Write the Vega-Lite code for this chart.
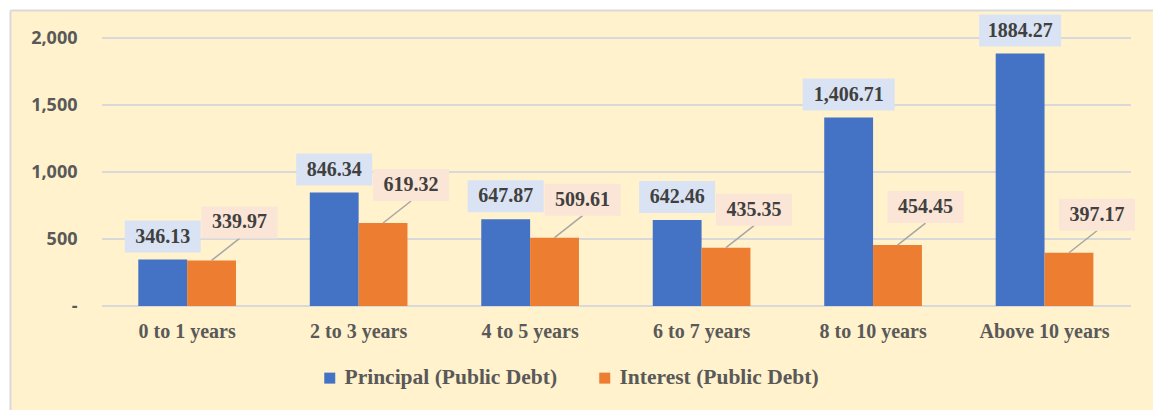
{
  "$schema": "https://vega.github.io/schema/vega-lite/v6.json",
  "width": 1143,
  "height": 400,
  "autosize": {"type": "none"},
  "padding": {"left": 10, "top": 10, "right": 0, "bottom": 0},
  "background": "#FFFFFF",
  "config": {"view": {"fill": "#FFF2CC", "stroke": null}},
  "data": {
    "values": [
      {"period": "0 to 1 years", "series": "Principal (Public Debt)", "value": 346.13, "label": "346.13"},
      {"period": "0 to 1 years", "series": "Interest (Public Debt)", "value": 339.97, "label": "339.97"},
      {"period": "2 to 3 years", "series": "Principal (Public Debt)", "value": 846.34, "label": "846.34"},
      {"period": "2 to 3 years", "series": "Interest (Public Debt)", "value": 619.32, "label": "619.32"},
      {"period": "4 to 5 years", "series": "Principal (Public Debt)", "value": 647.87, "label": "647.87"},
      {"period": "4 to 5 years", "series": "Interest (Public Debt)", "value": 509.61, "label": "509.61"},
      {"period": "6 to 7 years", "series": "Principal (Public Debt)", "value": 642.46, "label": "642.46"},
      {"period": "6 to 7 years", "series": "Interest (Public Debt)", "value": 435.35, "label": "435.35"},
      {"period": "8 to 10 years", "series": "Principal (Public Debt)", "value": 1406.71, "label": "1,406.71"},
      {"period": "8 to 10 years", "series": "Interest (Public Debt)", "value": 454.45, "label": "454.45"},
      {"period": "Above 10 years", "series": "Principal (Public Debt)", "value": 1884.27, "label": "1884.27"},
      {"period": "Above 10 years", "series": "Interest (Public Debt)", "value": 397.17, "label": "397.17"}
    ]
  },
  "resolve": {"axis": {"x": "independent", "y": "independent"}},
  "layer": [
    {
      "data": {"values": [{"g": 0}, {"g": 500}, {"g": 1000}, {"g": 1500}, {"g": 2000}]},
      "mark": {"type": "rule", "color": "#D9D9D9", "strokeWidth": 2},
      "encoding": {
        "y": {
          "field": "g", "type": "quantitative",
          "scale": {"domain": [-776.12, 2208.96], "nice": false, "zero": false},
          "axis": {"orient": "left", "domain": true, "domainColor": "#D9D9D9", "domainWidth": 2, "labels": false, "ticks": false, "grid": false, "title": null}
        },
        "x": {
          "datum": "0 to 1 years", "type": "nominal", "bandPosition": -0.3716,
          "scale": {"domain": ["0 to 1 years", "2 to 3 years", "4 to 5 years", "6 to 7 years", "8 to 10 years", "Above 10 years"], "paddingInner": 0.4303, "paddingOuter": 0.5479, "align": 0.6828},
          "axis": {"orient": "top", "domain": true, "domainColor": "#D9D9D9", "domainWidth": 2, "labels": false, "ticks": false, "grid": false, "title": null}
        },
        "x2": {"datum": "Above 10 years", "bandPosition": 1.385}
      }
    },
    {
      "mark": {"type": "bar"},
      "encoding": {
        "x": {
          "field": "period", "type": "nominal",
          "scale": {"domain": ["0 to 1 years", "2 to 3 years", "4 to 5 years", "6 to 7 years", "8 to 10 years", "Above 10 years"], "paddingInner": 0.4303, "paddingOuter": 0.5479, "align": 0.6828},
          "axis": {"orient": "bottom", "domain": false, "ticks": false, "tickSize": 0, "grid": false, "labelPadding": 0, "offset": -73, "labelAngle": 0, "labelBaseline": "alphabetic", "labelFont": "Liberation Serif", "labelFontWeight": "bold", "labelFontSize": 20, "labelColor": "#595959", "title": null}
        },
        "xOffset": {"field": "series", "type": "nominal", "scale": {"domain": ["Principal (Public Debt)", "Interest (Public Debt)"], "paddingInner": 0, "paddingOuter": 0}},
        "y": {
          "field": "value", "type": "quantitative",
          "scale": {"domain": [-776.12, 2208.96], "nice": false, "zero": false},
          "axis": {"orient": "left", "domain": false, "ticks": false, "tickSize": 0, "grid": false, "offset": -67, "labelPadding": 0, "values": [0, 500, 1000, 1500, 2000], "labelExpr": "datum.value == 0 ? '-' : format(datum.value, ',')", "labelFont": "Open Sans", "labelFontWeight": "bold", "labelFontSize": 18, "labelColor": "#595959", "title": null}
        },
        "color": {
          "field": "series", "type": "nominal",
          "scale": {"domain": ["Principal (Public Debt)", "Interest (Public Debt)"], "range": ["#4472C4", "#ED7D31"]},
          "legend": {"orient": "none", "legendX": 309, "legendY": 357, "direction": "horizontal", "title": null, "symbolType": "square", "symbolSize": 121, "symbolStrokeWidth": 0, "labelFont": "Liberation Serif", "labelFontWeight": "bold", "labelFontSize": 21.5, "labelColor": "#595959", "labelOffset": 4, "columnPadding": 36, "padding": 0, "labelLimit": 400}
        }
      }
    },
    {
      "transform": [{"filter": "datum.series == 'Principal (Public Debt)'"}],
      "mark": {"type": "point", "size": 4, "filled": true, "fill": "#DAE3F3", "color": "#DAE3F3", "strokeWidth": 0, "opacity": 1},
      "encoding": {
        "x": {"field": "period", "type": "nominal", "axis": null},
        "xOffset": {"field": "series", "type": "nominal"},
        "y": {"field": "value", "type": "quantitative", "axis": null},
        "shape": {
          "condition": [
            {"test": "length(datum.label) >= 8", "value": "M-46,-39H46V-7H-46Z"},
            {"test": "length(datum.label) == 7", "value": "M-41,-39H41V-7H-41Z"}
          ],
          "value": "M-38,-39H38V-7H-38Z"
        }
      }
    },
    {
      "transform": [{"filter": "datum.series == 'Principal (Public Debt)'"}],
      "mark": {"type": "text", "dy": -23, "baseline": "middle", "align": "center", "font": "Liberation Serif", "fontWeight": "bold", "fontSize": 20, "color": "#404040"},
      "encoding": {
        "x": {"field": "period", "type": "nominal", "axis": null},
        "xOffset": {"field": "series", "type": "nominal"},
        "y": {"field": "value", "type": "quantitative", "axis": null},
        "text": {"field": "label", "type": "nominal"}
      }
    },
    {
      "transform": [{"filter": "datum.series == 'Interest (Public Debt)'"}],
      "mark": {"type": "point", "shape": "M0,0L28,-22", "size": 4, "filled": false, "color": "#A6A6A6", "stroke": "#A6A6A6", "strokeWidth": 1.5, "opacity": 1},
      "encoding": {
        "x": {"field": "period", "type": "nominal", "axis": null},
        "xOffset": {"field": "series", "type": "nominal"},
        "y": {"field": "value", "type": "quantitative", "axis": null}
      }
    },
    {
      "transform": [{"filter": "datum.series == 'Interest (Public Debt)'"}],
      "mark": {"type": "point", "shape": "M-10,-54H66V-22H-10Z", "size": 4, "filled": true, "fill": "#FBE5D6", "color": "#FBE5D6", "strokeWidth": 0, "opacity": 1},
      "encoding": {
        "x": {"field": "period", "type": "nominal", "axis": null},
        "xOffset": {"field": "series", "type": "nominal"},
        "y": {"field": "value", "type": "quantitative", "axis": null}
      }
    },
    {
      "transform": [{"filter": "datum.series == 'Interest (Public Debt)'"}],
      "mark": {"type": "text", "dx": 28, "dy": -38, "baseline": "middle", "align": "center", "font": "Liberation Serif", "fontWeight": "bold", "fontSize": 20, "color": "#404040"},
      "encoding": {
        "x": {"field": "period", "type": "nominal", "axis": null},
        "xOffset": {"field": "series", "type": "nominal"},
        "y": {"field": "value", "type": "quantitative", "axis": null},
        "text": {"field": "label", "type": "nominal"}
      }
    }
  ]
}
